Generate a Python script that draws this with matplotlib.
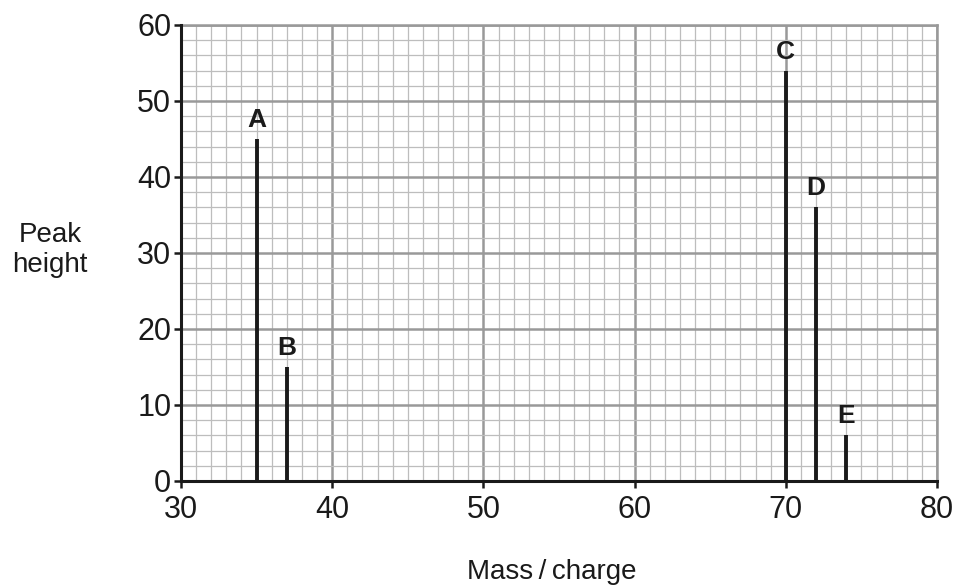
import matplotlib
matplotlib.use("Agg")
import matplotlib.pyplot as plt
from matplotlib.ticker import MultipleLocator

plt.rcParams['font.family'] = ['Liberation Sans', 'DejaVu Sans']

peak_labels = ['A', 'B', 'C', 'D', 'E']
mass_charge = [35, 37, 70, 72, 74]
peak_heights = [45, 15, 54, 36, 6]

fig = plt.figure(figsize=(9.58, 5.87), dpi=100)
ax = fig.add_axes([181/958, 1-481/587, (937-181)/958, (481-25)/587])

ax.set_xlim(30, 80)
ax.set_ylim(0, 60)
ax.xaxis.set_major_locator(MultipleLocator(10))
ax.xaxis.set_minor_locator(MultipleLocator(1))
ax.yaxis.set_major_locator(MultipleLocator(10))
ax.yaxis.set_minor_locator(MultipleLocator(2))

ax.grid(which='minor', color='#bdbdbd', linewidth=0.9)
ax.grid(which='major', color='#999999', linewidth=1.8)
ax.set_axisbelow(True)

ax.vlines(mass_charge, 0, peak_heights, colors='#1a1a1a', linewidth=2.8, zorder=3)
for lab, x, h in zip(peak_labels, mass_charge, peak_heights):
    ax.annotate(lab, (x, h), xytext=(0, 5), textcoords='offset points',
                ha='center', va='bottom', fontsize=19, fontweight='bold', color='#1a1a1a')

for s in ['left', 'bottom']:
    ax.spines[s].set_color('#1a1a1a')
    ax.spines[s].set_linewidth(2.2)
    ax.spines[s].set_zorder(4)
for s in ['top', 'right']:
    ax.spines[s].set_color('#999999')
    ax.spines[s].set_linewidth(1.8)

ax.tick_params(which='minor', length=0)
ax.tick_params(which='major', direction='out', length=5, width=1.8, color='#1a1a1a',
               labelsize=22, labelcolor='#1a1a1a')
ax.tick_params(axis='x', which='major', pad=5)
ax.tick_params(axis='y', which='major', pad=2)

fig.text(50/958, 1-250/587, 'Peak\nheight', ha='center', va='center', fontsize=20,
         color='#1a1a1a', linespacing=1.25)
fig.text(552/958, 1-572/587, 'Mass\u2009/\u2009charge', ha='center', va='center', fontsize=20,
         color='#1a1a1a')

fig.savefig('out.png', dpi=100)
